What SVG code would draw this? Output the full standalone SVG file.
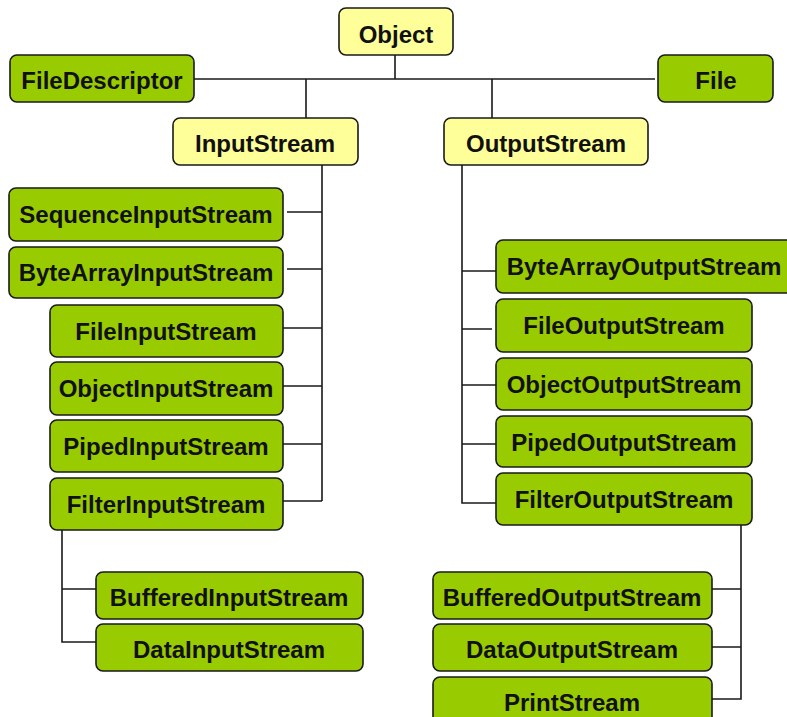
<svg xmlns="http://www.w3.org/2000/svg" width="787" height="717" viewBox="0 0 787 717">
<style>
.n rect{stroke:#1a1a1a;stroke-width:1.6}
.g rect{fill:#99cc00}
.y rect{fill:#ffff99}
text{font-family:"Liberation Sans",Arial,sans-serif;font-weight:bold;font-size:24px;fill:#111;text-anchor:middle}
#connectors path{fill:none;stroke:#1a1a1a;stroke-width:1.6}
</style>
<rect width="787" height="717" fill="#ffffff"/>
<g id="connectors">
<path d="M194 79H655M395 55V79M306 79V118M492 79V118"/>
<path d="M322 165V501M287 212H322M287 269H322M283 328H322M283 386H322M283 444H322M283 501H322"/>
<path d="M62 530V642H96M62 589H96"/>
<path d="M462 165V503H496M462 271H496M462 329H492M462 385H496M462 444H496"/>
<path d="M741 525V699H712M712 589H741M712 647H741"/>
</g>
<g id="Object" class="n y"><rect x="339" y="8" width="114" height="47" rx="7"/><text x="396" y="43">Object</text></g>
<g id="FileDescriptor" class="n g"><rect x="10" y="55" width="184" height="47" rx="7"/><text x="102" y="89">FileDescriptor</text></g>
<g id="File" class="n g"><rect x="658" y="55" width="115" height="47" rx="7"/><text x="716" y="89">File</text></g>
<g id="InputStream" class="n y"><rect x="173" y="118" width="185" height="47" rx="7"/><text x="265" y="152">InputStream</text></g>
<g id="OutputStream" class="n y"><rect x="444" y="118" width="204" height="47" rx="7"/><text x="546" y="152">OutputStream</text></g>
<g id="SequenceInputStream" class="n g"><rect x="9" y="188" width="274" height="53" rx="7"/><text x="146" y="223">SequenceInputStream</text></g>
<g id="ByteArrayInputStream" class="n g"><rect x="9" y="247" width="274" height="51" rx="7"/><text x="146" y="281">ByteArrayInputStream</text></g>
<g id="FileInputStream" class="n g"><rect x="50" y="305" width="233" height="52" rx="7"/><text x="166" y="340">FileInputStream</text></g>
<g id="ObjectInputStream" class="n g"><rect x="50" y="362" width="233" height="53" rx="7"/><text x="166" y="397">ObjectInputStream</text></g>
<g id="PipedInputStream" class="n g"><rect x="50" y="420" width="233" height="52" rx="7"/><text x="166" y="455">PipedInputStream</text></g>
<g id="FilterInputStream" class="n g"><rect x="50" y="478" width="233" height="52" rx="7"/><text x="166" y="513">FilterInputStream</text></g>
<g id="BufferedInputStream" class="n g"><rect x="96" y="572" width="267" height="47" rx="7"/><text x="229" y="606">BufferedInputStream</text></g>
<g id="DataInputStream" class="n g"><rect x="96" y="624" width="267" height="47" rx="7"/><text x="229" y="658">DataInputStream</text></g>
<g id="ByteArrayOutputStream" class="n g"><rect x="496" y="240" width="297" height="53" rx="7"/><text x="644" y="275">ByteArrayOutputStream</text></g>
<g id="FileOutputStream" class="n g"><rect x="496" y="299" width="256" height="53" rx="7"/><text x="624" y="334">FileOutputStream</text></g>
<g id="ObjectOutputStream" class="n g"><rect x="496" y="358" width="256" height="52" rx="7"/><text x="624" y="393">ObjectOutputStream</text></g>
<g id="PipedOutputStream" class="n g"><rect x="496" y="416" width="256" height="51" rx="7"/><text x="624" y="451">PipedOutputStream</text></g>
<g id="FilterOutputStream" class="n g"><rect x="496" y="473" width="256" height="52" rx="7"/><text x="624" y="508">FilterOutputStream</text></g>
<g id="BufferedOutputStream" class="n g"><rect x="433" y="572" width="279" height="47" rx="7"/><text x="572" y="606">BufferedOutputStream</text></g>
<g id="DataOutputStream" class="n g"><rect x="433" y="624" width="279" height="47" rx="7"/><text x="572" y="658">DataOutputStream</text></g>
<g id="PrintStream" class="n g"><rect x="433" y="677" width="279" height="52" rx="7"/><text x="572" y="711">PrintStream</text></g>
</svg>
